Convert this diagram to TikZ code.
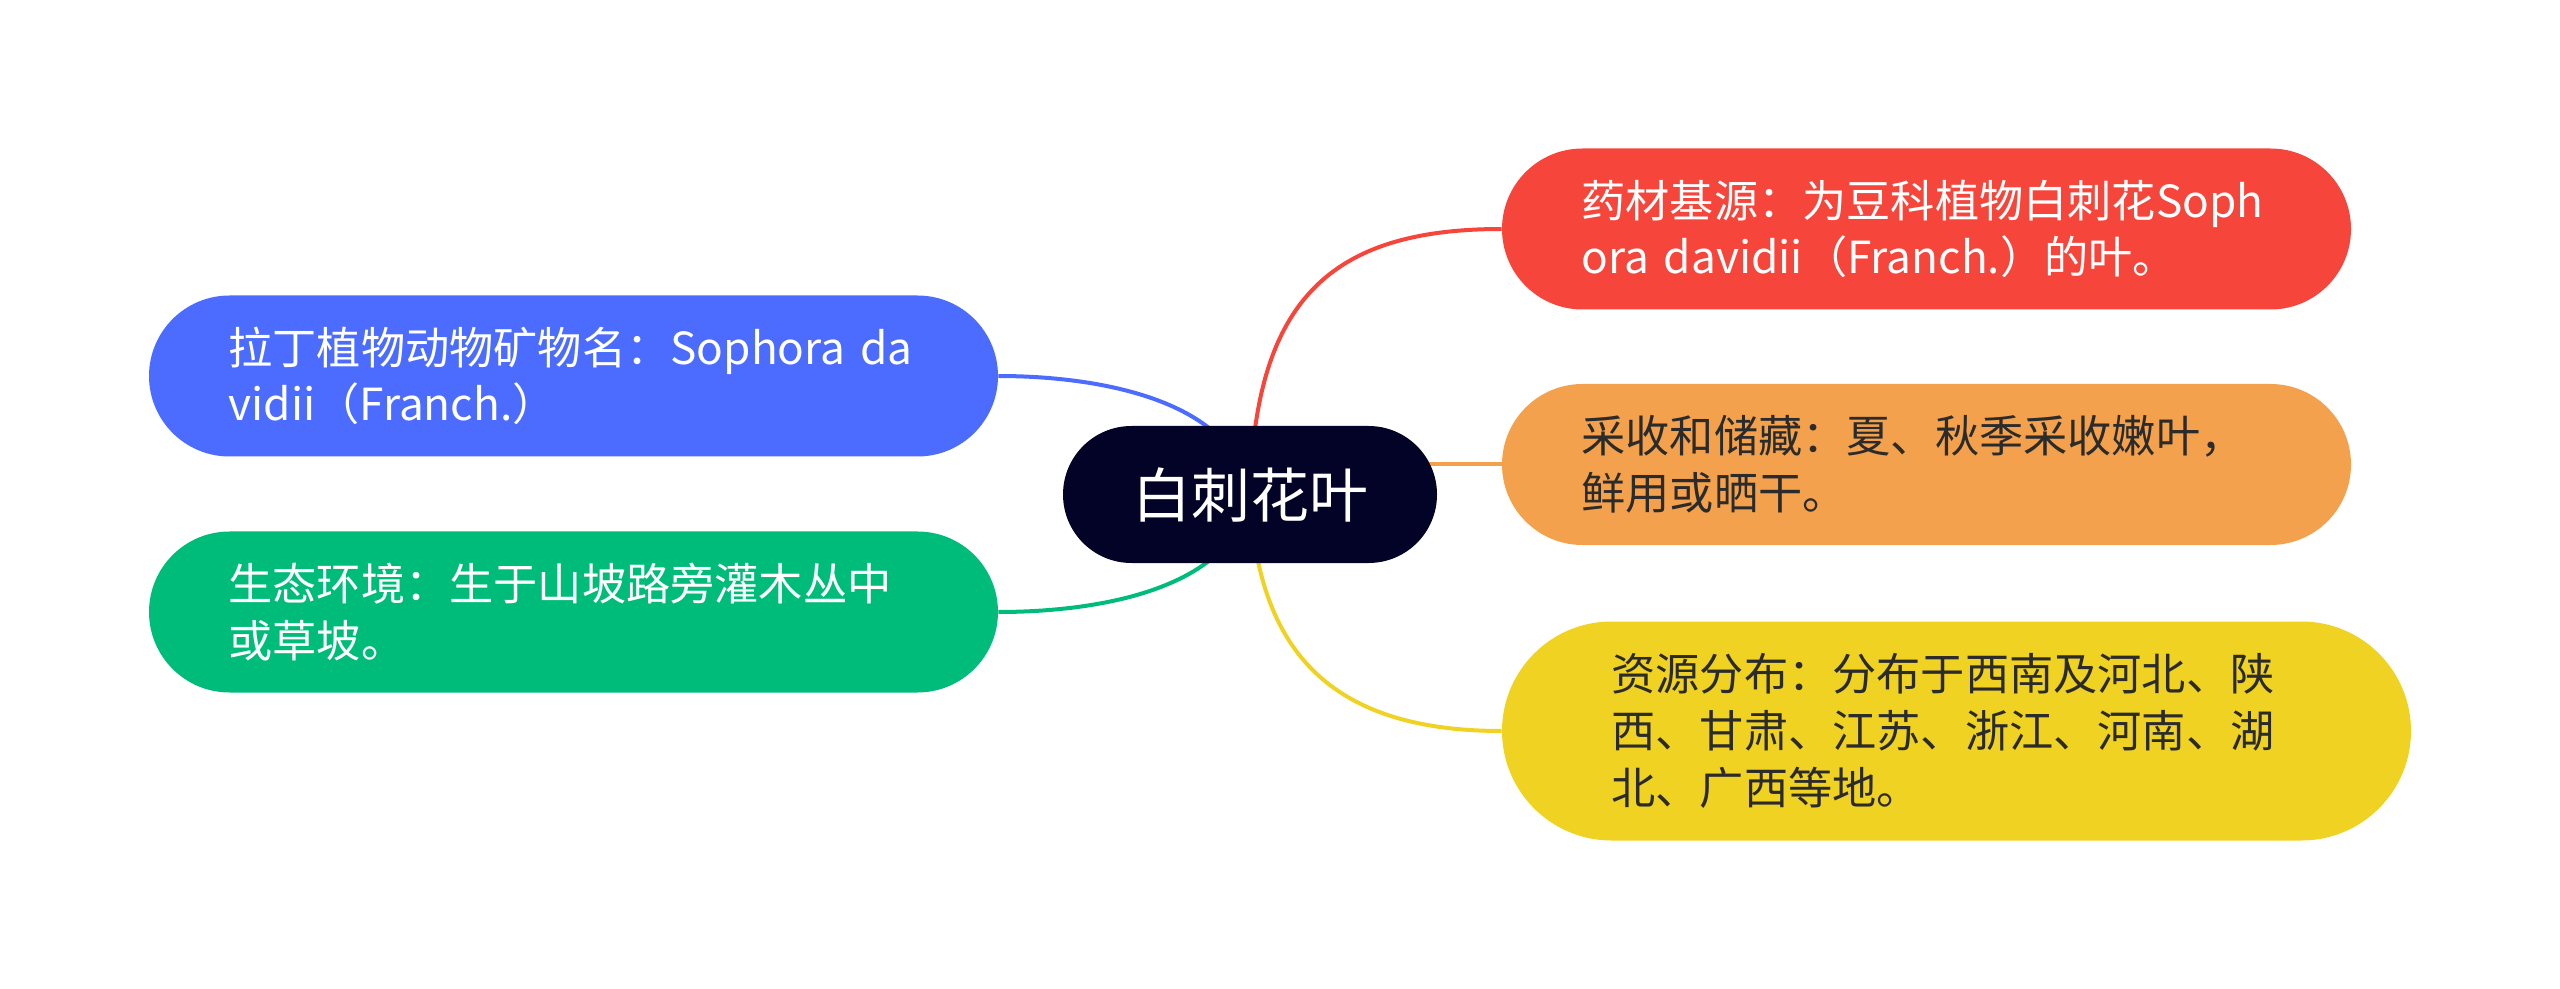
\documentclass[tikz,border=0pt]{standalone}
\usepackage{fontspec}
\newfontfamily\cjk{Noto Sans CJK SC}
\usetikzlibrary{backgrounds}
\definecolor{cblue}{HTML}{4B6CFE}
\definecolor{cgreen}{HTML}{00BC7B}
\definecolor{cred}{HTML}{F6453B}
\definecolor{corange}{HTML}{F4A14D}
\definecolor{cyellow}{HTML}{F0D223}
\definecolor{cnavy}{HTML}{020326}
\definecolor{ctext}{HTML}{2B2B2B}
\tikzset{
  leaf/.style={rectangle, rounded corners=40.25pt, minimum width=424.5pt, minimum height=80.5pt,
    inner sep=0pt, text width=345pt, align=left,
    font=\cjk\fontsize{22.1pt}{28.3pt}\selectfont},
  bigleaf/.style={leaf, minimum width=454.5pt, minimum height=109.5pt, rounded corners=54.75pt},
  rootnode/.style={rectangle, rounded corners=34.25pt, minimum width=187pt, minimum height=68.5pt,
    inner sep=0pt, fill=cnavy, text=white, font=\cjk\fontsize{29.5pt}{34pt}\selectfont},
  link/.style={line width=2pt}
}
\begin{document}
\begin{tikzpicture}[x=0.5pt,y=-0.5pt]
\useasboundingbox (0,0) rectangle (2560,989);
\node[rootnode] (c) at (1250,494.5) {白刺花叶};
\node[leaf, fill=cblue, text=white] (b) at (573.5,376) {拉丁植物动物矿物名：Sophora da\\vidii（Franch.）};
\node[leaf, fill=cgreen, text=white] (g) at (573.5,612) {生态环境：生于山坡路旁灌木丛中\\或草坡。};
\node[leaf, fill=cred, text=white] (r) at (1926.5,229) {药材基源：为豆科植物白刺花Soph\\ora davidii（Franch.）的叶。};
\node[leaf, fill=corange, text=ctext] (o) at (1926.5,464.5) {采收和储藏：夏、秋季采收嫩叶，\\鲜用或晒干。};
\node[bigleaf, fill=cyellow, text=ctext] (y) at (1956.5,731) {资源分布：分布于西南及河北、陕\\西、甘肃、江苏、浙江、河南、湖\\北、广西等地。};
\begin{scope}[on background layer]
\draw[link, cblue] (c.center) .. controls +(-15,-94) and +(102,0) .. (b.east);
\draw[link, cgreen] (c.center) .. controls +(-15,94) and +(102,0) .. (g.east);
\draw[link, cred] (c.center) .. controls +(5,-194) and +(-172,0) .. (r.west);
\draw[link, cyellow] (c.center) .. controls +(7,156) and +(-172,0) .. (y.west);
\draw[link, corange] (c.center |- o.west) -- (o.west);
\end{scope}
\end{tikzpicture}
\end{document}
